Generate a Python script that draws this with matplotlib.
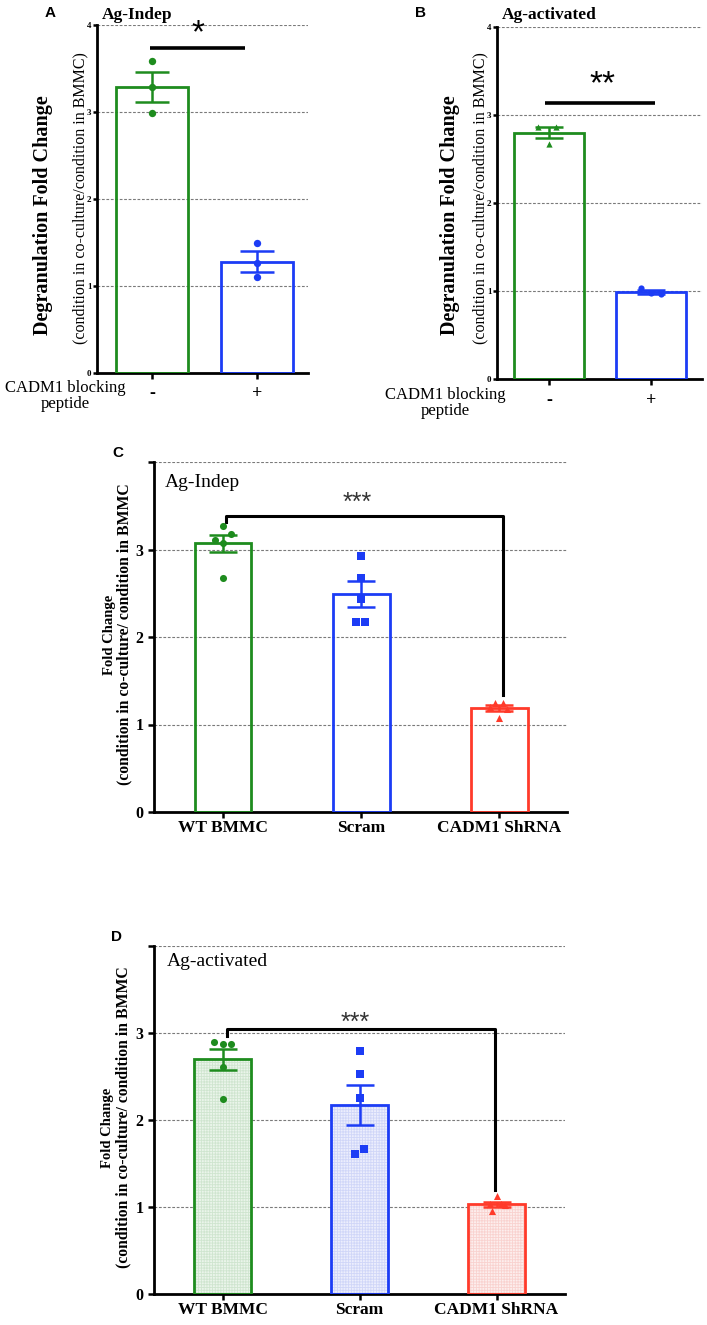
import matplotlib
matplotlib.use("Agg")
import matplotlib.pyplot as plt
import numpy as np

# ---------------------------------------------------------------------------
# Figure geometry (pixels of the target picture)
# ---------------------------------------------------------------------------
W, H, DPI = 707, 1325, 100

GREEN = "#1e8c1e"
BLUE = "#1c3cf5"
RED = "#ff3a2a"
LIGHT = {GREEN: ("#eaf5ea", "#cfe5cf"), BLUE: ("#eceefd", "#d0d6f8"), RED: ("#fdeeed", "#f9d2cf")}

SERIF = ["Liberation Serif", "DejaVu Serif"]
SANS = ["Liberation Sans", "DejaVu Sans"]

# ---------------------------------------------------------------------------
# Data
# ---------------------------------------------------------------------------
AB_GROUPS = ["-", "+"]
C_GROUPS = ["WT BMMC", "Scram", "CADM1 ShRNA"]

A_MEANS = [3.29, 1.28]
A_SEM = [0.17, 0.12]
A_POINTS = [[3.59, 3.29, 2.99], [1.50, 1.26, 1.10]]

B_MEANS = [2.80, 0.99]
B_SEM = [0.06, 0.02]
B_POINTS = [[2.86, 2.86, 2.67], [1.03, 0.98, 0.97]]

C_MEANS = [3.07, 2.49, 1.19]
C_SEM = [0.10, 0.15, 0.03]
C_POINTS = [[3.27, 3.18, 3.11, 3.08, 2.68],
            [2.93, 2.68, 2.44, 2.17, 2.17],
            [1.25, 1.25, 1.20, 1.18, 1.08]]

D_MEANS = [2.70, 2.17, 1.03]
D_SEM = [0.12, 0.23, 0.03]
D_POINTS = [[2.90, 2.87, 2.87, 2.61, 2.24],
            [2.79, 2.53, 2.25, 1.67, 1.61],
            [1.13, 1.04, 1.03, 1.02, 0.95]]

# horizontal scatter of the dots inside each bar (fraction of group spacing)
A_JITTER = [[0.0, 0.0, 0.0], [0.0, 0.0, 0.0]]
B_JITTER = [[-0.11, 0.07, 0.0], [-0.1, 0.0, 0.1]]
C_JITTER = [[0.0, 0.06, -0.06, 0.0, 0.0],
            [0.0, 0.0, 0.0, -0.035, 0.03],
            [-0.03, 0.03, -0.065, 0.055, 0.0]]
D_JITTER = [[-0.06, 0.0, 0.06, 0.0, 0.0],
            [0.0, 0.0, 0.0, 0.03, -0.03],
            [0.0, -0.05, 0.03, 0.06, -0.03]]


def make_axes(fig, left, right, top, bottom):
    return fig.add_axes([left / W, 1 - bottom / H, (right - left) / W, (bottom - top) / H])


def draw_bars(ax, means, sems, points, jitter, colors, markers, width,
              xlim, msize, capsize, hatched=False):
    x = np.arange(len(means))
    for v in [1, 2, 3, 4]:
        ax.axhline(v, color="#7a7a7a", lw=0.8, ls=(0, (2.5, 1.5)), zorder=1)
    if hatched:
        for i, c in enumerate(colors):
            face, hatch = LIGHT[c]
            ax.bar(x[i], means[i], width, color=face, edgecolor=hatch,
                   hatch="++++++", linewidth=0, zorder=2)
    ax.bar(x, means, width, fill=False, edgecolor=colors, linewidth=2.0, zorder=3)
    for i, c in enumerate(colors):
        ax.errorbar(x[i], means[i], yerr=sems[i], color=c, capsize=capsize,
                    elinewidth=1.8, capthick=1.8, zorder=4)
        ax.scatter(x[i] + np.array(jitter[i]), points[i], marker=markers[i],
                   s=msize, color=c, zorder=5, linewidths=0)
    ax.set_xlim(*xlim)
    ax.set_ylim(0, 4)
    ax.set_xticks(x)
    for s in ["top", "right"]:
        ax.spines[s].set_visible(False)
    for s in ["left", "bottom"]:
        ax.spines[s].set_linewidth(2.0)
    ax.tick_params(axis="both", width=1.8, length=4, color="black")
    return x


plt.rcParams["font.family"] = SERIF
plt.rcParams["hatch.linewidth"] = 0.6
fig = plt.figure(figsize=(W / DPI, H / DPI), dpi=DPI)

# ---------------------------------------------------------------------------
# Panel A
# ---------------------------------------------------------------------------
axA = make_axes(fig, 97, 308, 25, 373)
draw_bars(axA, A_MEANS, A_SEM, A_POINTS, A_JITTER, [GREEN, BLUE], ["o", "o"],
          0.68, (-0.524, 1.486), 28, 12.5)
axA.set_yticks([0, 1, 2, 3, 4])
axA.set_yticklabels(["0", "1", "2", "3", "4"], fontsize=6.5, fontweight="bold")
axA.set_xticklabels(AB_GROUPS, fontsize=13, fontweight="bold")
axA.tick_params(axis="y", pad=1, length=3)
axA.tick_params(axis="x", pad=5)
axA.plot([-0.02, 0.886], [3.74, 3.74], color="black", lw=2.6, solid_capstyle="butt")
axA.text(0.44, 3.72, "*", ha="center", va="bottom", fontsize=24, family=SANS)

# ---------------------------------------------------------------------------
# Panel B
# ---------------------------------------------------------------------------
axB = make_axes(fig, 497, 702, 27, 379)
draw_bars(axB, B_MEANS, B_SEM, B_POINTS, B_JITTER, [GREEN, BLUE], ["^", "o"],
          0.68, (-0.51, 1.5), 20, 10)
axB.set_yticks([0, 1, 2, 3, 4])
axB.set_yticklabels(["0", "1", "2", "3", "4"], fontsize=6.5, fontweight="bold")
axB.set_xticklabels(AB_GROUPS, fontsize=13, fontweight="bold")
axB.tick_params(axis="y", pad=1, length=3)
axB.tick_params(axis="x", pad=5)
axB.plot([-0.04, 1.04], [3.14, 3.14], color="black", lw=2.6, solid_capstyle="butt")
axB.text(0.52, 3.17, "**", ha="center", va="bottom", fontsize=24, family=SANS)

for cx, ytxt in [(65, 396), (445, 403)]:
    fig.text(cx / W, 1 - ytxt / H, "CADM1 blocking\npeptide", ha="center", va="center",
             fontsize=12, linespacing=1.05)

# y labels of A / B
for bold_x, thin_x in [(43, 80), (450, 480)]:
    fig.text(bold_x / W, 1 - 215 / H, "Degranulation Fold Change", rotation=90,
             ha="center", va="center", fontsize=14.5, fontweight="bold")
    fig.text(thin_x / W, 1 - 198 / H, "(condition in co-culture/condition in BMMC)",
             rotation=90, ha="center", va="center", fontsize=11.5)

fig.text(102 / W, 1 - 15 / H, "Ag-Indep", ha="left", va="center", fontsize=12.5, fontweight="bold")
fig.text(502 / W, 1 - 15 / H, "Ag-activated", ha="left", va="center", fontsize=12.5, fontweight="bold")

# ---------------------------------------------------------------------------
# Panel C
# ---------------------------------------------------------------------------
axC = make_axes(fig, 154, 567, 462, 812)
draw_bars(axC, C_MEANS, C_SEM, C_POINTS, C_JITTER, [GREEN, BLUE, RED], ["o", "s", "^"],
          0.41, (-0.5, 2.49), 26, 10)
axC.set_yticks([0, 1, 2, 3, 4])
axC.set_yticklabels(["0", "1", "2", "3", ""], fontsize=11.5, fontweight="bold")
axC.set_xticklabels(C_GROUPS, fontsize=12.5, fontweight="bold")
axC.tick_params(axis="x", pad=2)
axC.plot([0.02, 0.02, 2.03, 2.03], [3.32, 3.38, 3.38, 1.34], color="black", lw=2.2)
axC.text(0.97, 3.40, "***", ha="center", va="bottom", fontsize=18, family=SANS, color="#333333")
axC.text(-0.42, 3.77, "Ag-Indep", ha="left", va="center", fontsize=14)

fig.text(110 / W, 1 - 635 / H, "Fold Change", rotation=90, ha="center", va="center",
         fontsize=10.5, fontweight="bold")
fig.text(124 / W, 1 - 634 / H, "(condition in co-culture/ condition in BMMC", rotation=90,
         ha="center", va="center", fontsize=11.3, fontweight="bold")

# ---------------------------------------------------------------------------
# Panel D
# ---------------------------------------------------------------------------
axD = make_axes(fig, 154, 565, 946, 1294)
draw_bars(axD, D_MEANS, D_SEM, D_POINTS, D_JITTER, [GREEN, BLUE, RED], ["o", "s", "^"],
          0.41, (-0.5, 2.5), 26, 10, hatched=True)
axD.set_yticks([0, 1, 2, 3, 4])
axD.set_yticklabels(["0", "1", "2", "3", ""], fontsize=11.5, fontweight="bold")
axD.set_xticklabels(C_GROUPS, fontsize=12.5, fontweight="bold")
axD.tick_params(axis="x", pad=2)
axD.plot([0.03, 0.03, 1.99, 1.99], [2.97, 3.05, 3.05, 1.20], color="black", lw=2.2)
axD.text(0.97, 2.98, "***", ha="center", va="bottom", fontsize=18, family=SANS, color="#333333")
axD.text(-0.41, 3.82, "Ag-activated", ha="left", va="center", fontsize=14)

fig.text(108 / W, 1 - 1128 / H, "Fold Change", rotation=90, ha="center", va="center",
         fontsize=10.5, fontweight="bold")
fig.text(123 / W, 1 - 1117 / H, "(condition in co-culture/ condition in BMMC", rotation=90,
         ha="center", va="center", fontsize=11.3, fontweight="bold")

# panel letters
for letter, lx, ly in [("A", 50, 13), ("B", 420, 13), ("C", 118, 453), ("D", 117, 937)]:
    fig.text(lx / W, 1 - ly / H, letter, ha="center", va="center", fontsize=11,
             fontweight="bold", family=SANS)

fig.savefig("out.png", dpi=DPI)
